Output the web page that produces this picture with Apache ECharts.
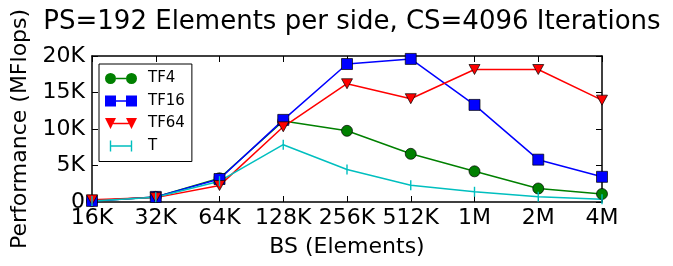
<!DOCTYPE html>
<html>
<head>
<meta charset="utf-8">
<script src="https://cdn.jsdelivr.net/npm/echarts@6/dist/echarts.min.js"></script>
<style>
  html, body { margin: 0; padding: 0; background: #fff; }
  #chart { width: 673px; height: 266px; }
</style>
</head>
<body>
<div id="chart"></div>
<script>
// block sizes on the x axis
const categories = ['16K', '32K', '64K', '128K', '256K', '512K', '1M', '2M', '4M']
// performance in MFlops
const tf4 = [150, 700, 3250, 11100, 9750, 6600, 4200, 1850, 1100]
const tf16 = [150, 700, 3150, 11250, 18900, 19600, 13300, 5800, 3450]
const tf64 = [300, 600, 2250, 10300, 16200, 14150, 18150, 18150, 13950]
const tSeries = [150, 650, 2850, 7850, 4450, 2300, 1400, 730, 380]
const yTicks = [0, 5000, 10000, 15000, 20000]

const font = 'DejaVu Sans'

// legend icons: marker - line - marker, like matplotlib
const iconCircle = 'path://M0,6a5.5,5.5 0 1,0 11,0a5.5,5.5 0 1,0 -11,0Z M11,5.3h10v1.4h-10Z M21,6a5.5,5.5 0 1,0 11,0a5.5,5.5 0 1,0 -11,0Z'
const iconSquare = 'path://M0,0.5h11v11h-11Z M11,5.3h10v1.4h-10Z M21,0.5h11v11h-11Z'
const iconTri = 'path://M0,0.5L11,0.5L5.5,11.5Z M8.2,5.3h15.6v1.4h-15.6Z M21,0.5L32,0.5L26.5,11.5Z'
const iconT = 'path://M0,6L0,6Z M32,6L32,6Z M4.8,0.5h1.4v11h-1.4Z M6.2,5.3h19.6v1.4h-19.6Z M25.8,0.5h1.4v11h-1.4Z'

const myChart = echarts.init(document.getElementById('chart'))

function fmtK(v) {
  return v === 0 ? '0' : (v / 1000) + 'K'
}

const frameAxis = {
  show: true,
  onZero: false,
  lineStyle: { color: '#000', width: 1.5 }
}
const inTick = {
  show: true,
  inside: true,
  length: 6,
  lineStyle: { color: '#000', width: 1 }
}

function lineSeries(name, data, color, symbol, size, rotate) {
  return {
    name: name,
    type: 'line',
    data: data,
    symbol: symbol,
    symbolSize: size,
    symbolRotate: rotate || 0,
    showAllSymbol: true,
    clip: true,
    lineStyle: { color: color, width: 1.5 },
    itemStyle: { color: color, borderColor: '#000', borderWidth: 0.7, opacity: 1 },
    emphasis: { disabled: true },
    animation: false
  }
}

const option = {
  animation: false,
  backgroundColor: '#fff',
  title: {
    text: 'PS=192 Elements per side, CS=4096 Iterations',
    left: 347,
    top: 4,
    textAlign: 'center',
    textStyle: { fontFamily: font, fontSize: 26, fontWeight: 'normal', color: '#000' }
  },
  legend: {
    orient: 'vertical',
    left: 99,
    top: 64,
    padding: [7, 7, 8, 6],
    itemWidth: 32,
    itemHeight: 11,
    itemGap: 7.5,
    backgroundColor: '#fff',
    borderColor: '#000',
    borderWidth: 1,
    borderRadius: 0,
    itemStyle: { borderWidth: 0 },
    textStyle: { fontFamily: font, fontSize: 15, color: '#000', padding: [0, 0, 0, 6] },
    data: [
      { name: 'TF4', icon: iconCircle },
      { name: 'TF16', icon: iconSquare },
      { name: 'TF64', icon: iconTri },
      { name: 'T', icon: iconT }
    ]
  },
  grid: { left: 92, right: 71, top: 56, bottom: 64 },
  xAxis: [
    {
      type: 'category',
      data: categories,
      boundaryGap: false,
      position: 'bottom',
      name: 'BS (Elements)',
      nameLocation: 'middle',
      nameGap: 34,
      nameTextStyle: { fontFamily: font, fontSize: 22, color: '#000' },
      axisLine: frameAxis,
      axisTick: inTick,
      axisLabel: { fontFamily: font, fontSize: 22, color: '#000', margin: 5, interval: 0 },
      splitLine: { show: false }
    },
    {
      type: 'category',
      data: categories,
      boundaryGap: false,
      position: 'top',
      axisLine: frameAxis,
      axisTick: inTick,
      axisLabel: { show: false },
      splitLine: { show: false }
    }
  ],
  yAxis: [
    {
      type: 'value',
      min: yTicks[0],
      max: yTicks[yTicks.length - 1],
      interval: yTicks[1] - yTicks[0],
      position: 'left',
      name: 'Performance (MFlops)',
      nameLocation: 'middle',
      nameRotate: 90,
      nameGap: 60,
      nameTextStyle: { fontFamily: font, fontSize: 22, color: '#000' },
      axisLine: frameAxis,
      axisTick: inTick,
      axisLabel: { fontFamily: font, fontSize: 22, color: '#000', margin: 7, formatter: fmtK },
      splitLine: { show: false }
    },
    {
      type: 'value',
      min: yTicks[0],
      max: yTicks[yTicks.length - 1],
      interval: yTicks[1] - yTicks[0],
      position: 'right',
      axisLine: frameAxis,
      axisTick: inTick,
      axisLabel: { show: false },
      splitLine: { show: false }
    }
  ],
  series: [
    lineSeries('TF4', tf4, '#008000', 'circle', 11),
    lineSeries('TF16', tf16, '#0000ff', 'rect', 11),
    lineSeries('TF64', tf64, '#ff0000', 'triangle', [11, 10], 180),
    Object.assign(lineSeries('T', tSeries, '#00bfbf', 'rect', [1.4, 10]), {
      itemStyle: { color: '#00bfbf', borderWidth: 0, opacity: 1 }
    })
  ]
}

option && myChart.setOption(option)
</script>
</body>
</html>
